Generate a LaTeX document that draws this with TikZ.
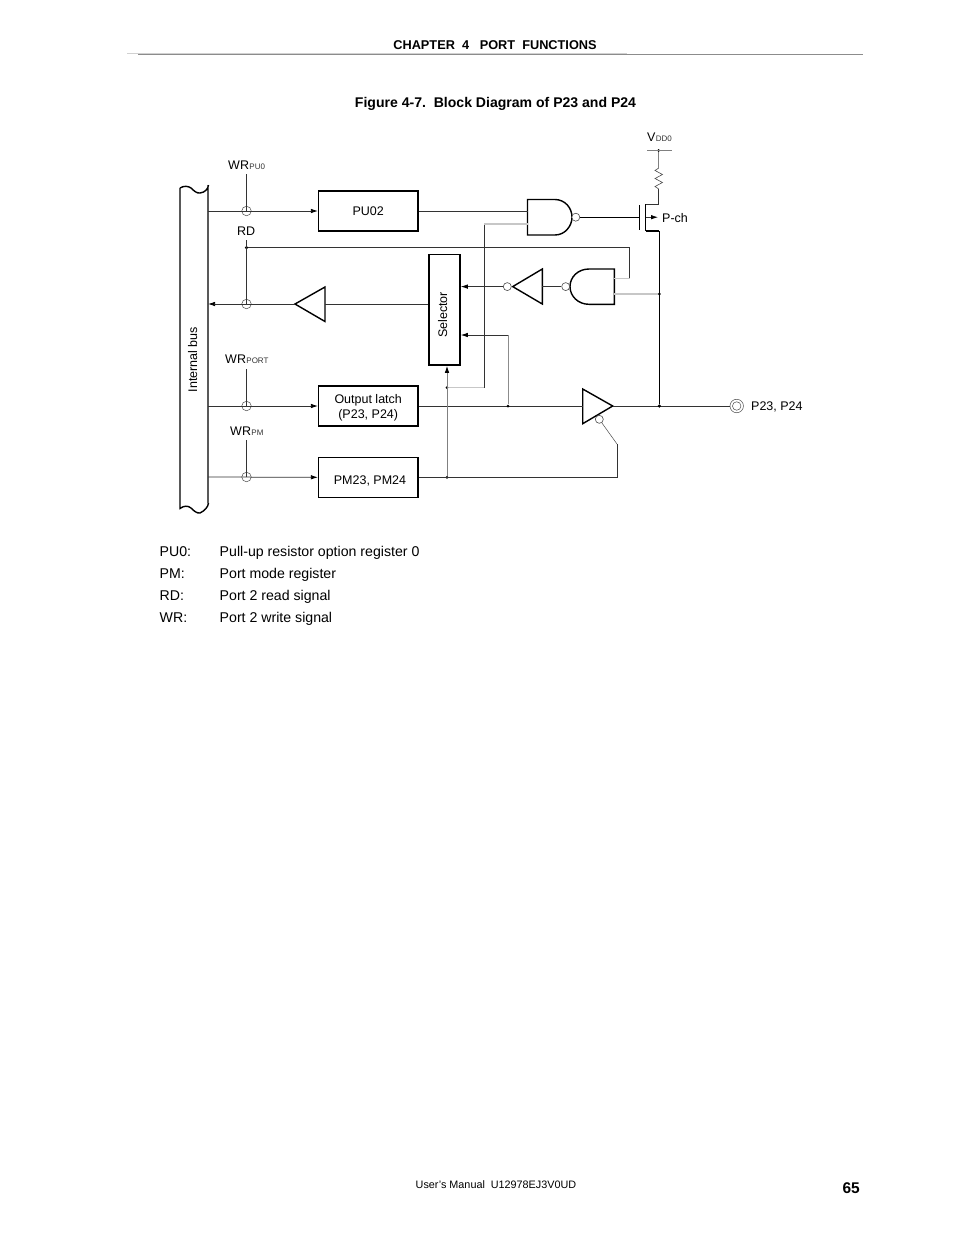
\documentclass[tikz,border=0pt]{standalone}
\usepackage{fontspec}
\setmainfont{Liberation Sans}
\usetikzlibrary{arrows.meta}
\tikzset{
  wire/.style={draw=black!80,line width=0.75pt},
  gwire/.style={draw=black!22,line width=1.1pt},
  dwire/.style={draw=black,line width=1.1pt},
  sym/.style={draw=black,line width=1.4pt,line join=miter},
  arr/.style={-{Latex[length=7pt,width=4.5pt,black]}},
  regbox/.style={draw=black,line width=1.1pt,minimum width=99.5pt,inner sep=0pt,align=center,font=\fontsize{12.5}{14.5}\selectfont},
  lbl/.style={inner sep=0pt,anchor=base west,font=\fontsize{12.5}{14}\selectfont},
  sub/.style={inner sep=0pt,anchor=base west,font=\fontsize{8}{9}\selectfont,text=black!80},
  leg/.style={inner sep=0pt,anchor=base west,font=\fontsize{14.15}{17}\selectfont},
  bubble/.style={circle,draw=black!70,line width=0.6pt,fill=white,minimum size=8pt,inner sep=0pt},
  xover/.style={circle,draw=black!70,line width=0.5pt,minimum size=9.5pt,inner sep=0pt},
  jdot/.style={circle,fill=black,minimum size=3.5pt,inner sep=0pt},
}
\begin{document}
\begin{tikzpicture}[x=1pt,y=-1pt]
\useasboundingbox (0,0) rectangle (954,1235);
% header
\node[inner sep=0pt,anchor=base] (chap) at (495,49) {\fontsize{12.75}{14}\selectfont\bfseries CHAPTER\ \ 4\ \ \ PORT\ \ FUNCTIONS};
\coordinate (hla) at (127,53.5); \coordinate (hlb) at (627,53.5);
\coordinate (hra) at (138,54.6); \coordinate (hrb) at (863,54.6);
\draw[draw=black!18,line width=1pt] (hla) -- (hlb);
\draw[draw=black!45,line width=0.8pt] (hra) -- (hrb);
\node[inner sep=0pt,anchor=base] (title) at (495.5,107) {\fontsize{14.05}{17}\selectfont\bfseries Figure 4-7.\ \ Block Diagram of P23 and P24};
% bus
\draw[sym] (180,188) .. controls (184,185.5) and (188,186) .. (191,188) .. controls (194,191) and (197,193.5) .. (200,193) .. controls (205,192.5) and (208,189) .. (208.5,185)
  (208,185) -- (208,503)
  (208.5,503) .. controls (208,507) and (205,510.5) .. (200,513) .. controls (197,513.5) and (194,511) .. (191,508) .. controls (188,505.5) and (184,505.5) .. (180,508.5)
  -- (180,188);
\coordinate (bus1) at (208,211); \coordinate (bus2) at (208,304);
\coordinate (bus3) at (208,406); \coordinate (bus4) at (208,477);
\node[inner sep=0pt,rotate=90,anchor=base] (ibus) at (197,359.5) {\fontsize{12.5}{14}\selectfont Internal bus};
% registers
\node[regbox,minimum height=40pt] (pu) at (368.2,211) {PU02};
\node[regbox,minimum height=40pt] (ol) at (368.2,406) {};
\node[inner sep=0pt,align=center,font=\fontsize{12.5}{14.5}\selectfont] (oltxt) at (368.2,408) {Output latch\\(P23, P24)};
\node[regbox,minimum height=40pt] (pm) at (368.2,477.3) {};
\node[inner sep=0pt,font=\fontsize{12.5}{14.5}\selectfont] (pmtxt) at (370,480.5) {PM23, PM24};
\node[draw=black,line width=1.6pt,minimum width=31pt,minimum height=110.5pt,inner sep=0pt] (sel) at (444.5,309.7) {};
\node[inner sep=0pt,rotate=90,anchor=base] (seltxt) at (447,315) {\fontsize{12.5}{14}\selectfont Selector};
% crossing circles and signal lines
\node[xover] (c1) at (246.5,211) {};
\node[xover] (c2) at (246.5,304) {};
\node[xover] (c3) at (246.5,406) {};
\node[xover] (c4) at (246.5,477) {};
\coordinate (w1) at (246.5,174); \coordinate (w3) at (246.5,369); \coordinate (w4) at (246.5,440);
\coordinate (rdtop) at (246.5,240);
\node[jdot] (rdj) at (246.5,247.5) {};
\draw[wire] (w1) -- (c1.center);
\draw[wire] (rdtop) -- (c2.center);
\draw[wire] (w3) -- (c3.center);
\draw[wire] (w4) -- (c4.center);
\draw[wire,arr] (bus1) -- (pu.west);
\draw[wire,arr] (bus3) -- (ol.west);
\draw[wire,arr] (bus4) -- (pm.west);
\node[lbl] (l1) at (228,169.5) {WR};
\node[sub] (l1s) at (l1.base east) {PU0};
\node[lbl] (l2) at (237,235) {RD};
\node[lbl] (l3) at (225,363) {WR};
\node[sub] (l3s) at (l3.base east) {PORT};
\node[lbl] (l4) at (230,435) {WR};
\node[sub] (l4s) at (l4.base east) {PM};
% read buffer
\coordinate (b1a) at (295,304); \coordinate (b1t) at (325,287); \coordinate (b1b) at (325,321.5); \coordinate (b1in) at (325,304);
\draw[sym] (b1a) -- (b1t) -- (b1b) -- cycle;
\draw[wire] (sel.west |- b1in) -- (b1in);
\draw[wire,arr] (b1a) -- (bus2);
% NAND top
\draw[sym] (555,199.5) -- (527.5,199.5) -- (527.5,235) -- (555,235) .. controls (565,235) and (572,226) .. (572,217.2) .. controls (572,208) and (565,199.5) .. (555,199.5) -- cycle;
\coordinate (n1a) at (527.5,211); \coordinate (n1b) at (527.5,224);
\node[bubble] (n1o) at (575.8,217.2) {};
\draw[wire] (pu.east) -- (n1a);
% P-ch
\coordinate (gate) at (639.3,217.2);
\draw[dwire,line width=1.3pt] (639.3,205) -- (639.3,230);
\draw[dwire] (n1o.east) -- (gate);
\coordinate (chT) at (645.7,204); \coordinate (chB) at (645.7,231);
\coordinate (rb) at (658.7,204); \coordinate (nodeb) at (659.3,231);
\draw[dwire] (chT) -- (chB);
\draw[wire] (chT) -- (rb) -- (658.7,189);
\draw[dwire] (chB) -- (nodeb);
\draw[wire,arr] (645.7,217.2) -- (658,217.2);
\node[lbl] (pch) at (662,222) {P-ch};
\draw[draw=black!70,line width=0.6pt] (658.7,189) -- (655,186.5) -- (662.5,182.5) -- (655,178.5) -- (662.5,174.5) -- (655,170.5) -- (658.7,168);
\node[jdot,minimum size=3pt] (vdj) at (658.7,150.5) {};
\coordinate (vl) at (647,150.5); \coordinate (vr) at (672,150.5);
\draw[draw=black!50,line width=0.8pt] (vl) -- (vr);
\draw[draw=black!50,line width=0.8pt] (vdj) -- (658.7,168);
\node[lbl] (vd) at (647,141.5) {V};
\node[sub] (vds) at (vd.base east) {DD0};
% lower AND, inverter
\draw[sym] (614.3,269) -- (589,269) .. controls (578,269) and (570,277) .. (570,286.6) .. controls (570,296) and (578,304.3) .. (589,304.3) -- (614.3,304.3) -- cycle;
\node[bubble] (a2i) at (565.7,286.6) {};
\coordinate (a2a) at (614.3,278.5); \coordinate (a2b) at (614.3,294);
\coordinate (i2a) at (512.7,286.6); \coordinate (i2t) at (542.3,269); \coordinate (i2b) at (542.3,304); \coordinate (i2in) at (542.3,286.6);
\draw[sym] (i2a) -- (i2t) -- (i2b) -- cycle;
\node[bubble] (i2o) at (507.3,286.6) {};
\draw[wire] (a2i.west) -- (i2in);
\draw[wire,arr] (i2o.west) -- (sel.east |- i2o);
% RD line
\coordinate (rdR) at (629.7,247.5);
\draw[wire] (rdj) -- (rdR) -- (rdR |- a2a);
\draw[gwire] (rdR |- a2a) -- (a2a);
% output stage
\coordinate (t3l) at (582.7,406); \coordinate (t3a) at (612.7,406);
\draw[sym] (582.7,389) -- (t3a) -- (582.7,423.7) -- cycle;
\draw[wire] (ol.east) -- (t3l);
\node[bubble] (t3e) at (599.3,419.3) {};
\node[draw=black!70,line width=0.5pt,circle,minimum size=13.5pt,inner sep=0pt] (padO) at (736.7,406) {};
\node[draw=black!70,line width=0.5pt,circle,minimum size=8.5pt,inner sep=0pt] (padI) at (736.7,406) {};
\draw[wire] (t3a) -- (padO.west);
\node[lbl] (pad) at (751,410.5) {P23, P24};
\node[jdot] (jd) at (659.3,406) {};
\node[jdot,minimum size=3pt] (j294) at (659.3,294) {};
\draw[dwire] (nodeb) -- (jd);
\draw[gwire] (a2b) -- (j294);
% selector input from latch
\node[jdot,minimum size=3pt] (j508) at (508,406) {};
\coordinate (s1) at (508,335);
\draw[draw=black!45,line width=0.9pt] (j508) -- (s1);
\draw[wire,arr] (s1) -- (sel.east |- s1);
% PM connections
\node[jdot,minimum size=3pt] (j447b) at (447,477.3) {};
\node[jdot,minimum size=3pt] (j447a) at (447,387.7) {};
\coordinate (p1) at (617,477.3); \coordinate (p2) at (617,444);
\draw[wire] (pm.east) -- (p1) -- (p2);
\draw[draw=black!70,line width=0.5pt] (p2) -- (t3e);
\draw[draw=black!50,line width=0.9pt,arr] (j447b) -- (j447b |- sel.south);
% NAND second input
\coordinate (g1) at (484,387.7); \coordinate (g2) at (484,224);
\draw[gwire] (j447a) -- (g1);
\draw[wire] (g1) -- (g2);
\draw[gwire] (g2) -- (n1b);
% legend
\node[leg] (k1) at (159.5,556) {PU0:};
\node[leg] (v1) at (219.5,556) {Pull-up resistor option register 0};
\node[leg] (k2) at (159.5,578) {PM:};
\node[leg] (v2) at (219.5,578) {Port mode register};
\node[leg] (k3) at (159.5,600) {RD:};
\node[leg] (v3) at (219.5,600) {Port 2 read signal};
\node[leg] (k4) at (159.5,622) {WR:};
\node[leg] (v4) at (219.5,622) {Port 2 write signal};
% footer
\node[inner sep=0pt,anchor=base west] (foot) at (415.5,1188) {\fontsize{10.8}{13}\selectfont User’s Manual\ \ U12978EJ3V0UD};
\node[inner sep=0pt,anchor=base east] (page) at (860,1193) {\fontsize{15.5}{18}\selectfont\bfseries 65};
\end{tikzpicture}
\end{document}
